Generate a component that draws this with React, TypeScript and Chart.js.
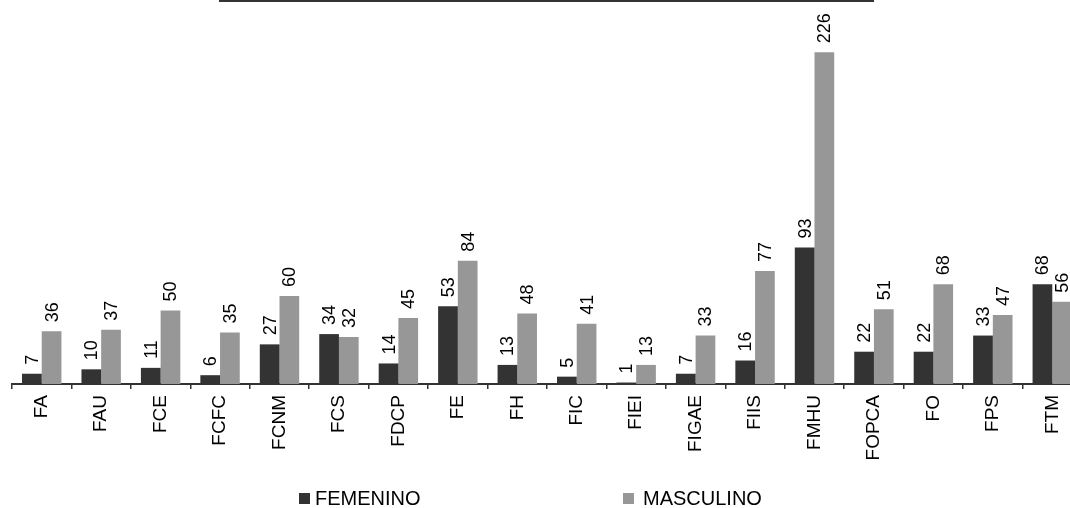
import React, { useEffect, useRef } from "react";
import { Chart, registerables } from "chart.js";

Chart.register(...registerables);

const categories = ["FA", "FAU", "FCE", "FCFC", "FCNM", "FCS", "FDCP", "FE", "FH", "FIC", "FIEI", "FIGAE", "FIIS", "FMHU", "FOPCA", "FO", "FPS", "FTM"];
const femenino = [7, 10, 11, 6, 27, 34, 14, 53, 13, 5, 1, 7, 16, 93, 22, 22, 33, 68];
const masculino = [36, 37, 50, 35, 60, 32, 45, 84, 48, 41, 13, 33, 77, 226, 51, 68, 47, 56];
const seriesNames = ["FEMENINO", "MASCULINO"];
const seriesColors = ["#333333", "#979797"];

const FONT = "'Liberation Sans', Arial, sans-serif";

const valueLabels = {
  id: "valueLabels",
  afterDatasetsDraw(chart: any) {
    const ctx = chart.ctx;
    ctx.save();
    ctx.fillStyle = "#000";
    ctx.font = `18px ${FONT}`;
    ctx.textAlign = "left";
    ctx.textBaseline = "middle";
    chart.data.datasets.forEach((ds: any, i: number) => {
      const meta = chart.getDatasetMeta(i);
      meta.data.forEach((bar: any, j: number) => {
        ctx.save();
        ctx.translate(bar.x + 1, bar.y - 9);
        ctx.rotate(-Math.PI / 2);
        ctx.fillText(String(ds.data[j]), 0, 0);
        ctx.restore();
      });
    });
    ctx.restore();
  },
};

const decorations = {
  id: "decorations",
  afterDraw(chart: any) {
    const ctx = chart.ctx;
    ctx.save();
    // top rule
    ctx.strokeStyle = "#333";
    ctx.lineWidth = 2;
    ctx.beginPath();
    ctx.moveTo(219, 1);
    ctx.lineTo(874, 1);
    ctx.stroke();
    // legend
    const items = [
      { x: 299, tx: 315 },
      { x: 623, tx: 643 },
    ];
    ctx.font = `20px ${FONT}`;
    ctx.textAlign = "left";
    ctx.textBaseline = "alphabetic";
    chart.data.datasets.forEach((ds: any, i: number) => {
      const it = items[i];
      ctx.fillStyle = ds.backgroundColor;
      ctx.fillRect(it.x, 493, 11, 11);
      ctx.fillStyle = "#000";
      ctx.fillText(ds.label, it.tx, 505);
    });
    ctx.restore();
  },
};

export default function App() {
  const ref = useRef<HTMLCanvasElement>(null);
  useEffect(() => {
    document.body.style.margin = "0";
    const chart = new Chart(ref.current!, {
      type: "bar",
      data: {
        labels: categories,
        datasets: [
          { label: seriesNames[0], data: femenino, backgroundColor: seriesColors[0], borderWidth: 0 },
          { label: seriesNames[1], data: masculino, backgroundColor: seriesColors[1], borderWidth: 0 },
        ],
      },
      options: {
        responsive: false,
        animation: false,
        devicePixelRatio: 1,
        categoryPercentage: 0.663,
        barPercentage: 1.0,
        layout: { padding: { left: 12, right: 0, top: 17, bottom: 0 } },
        plugins: { legend: { display: false }, tooltip: { enabled: false } },
        scales: {
          x: {
            grid: {
              offset: true,
              drawOnChartArea: false,
              drawTicks: true,
              tickLength: 5,
              color: "#333",
              lineWidth: 1.5,
            },
            border: { display: true, color: "#333", width: 2 },
            ticks: {
              minRotation: 90,
              maxRotation: 90,
              autoSkip: false,
              padding: 6,
              color: "#000",
              font: { family: FONT, size: 19 },
            },
            afterFit: (s: any) => {
              s.height = 124;
            },
          },
          y: {
            display: false,
            min: 0,
            max: 250,
          },
        },
      },
      plugins: [valueLabels, decorations],
    });
    return () => chart.destroy();
  }, []);
  return (
    <div style={{ position: "fixed", left: 0, top: 0, width: 1070, height: 508, overflow: "hidden", background: "#fff" }}>
      <canvas ref={ref} width={1082} height={508} style={{ width: 1082, height: 508 }} />
    </div>
  );
}
